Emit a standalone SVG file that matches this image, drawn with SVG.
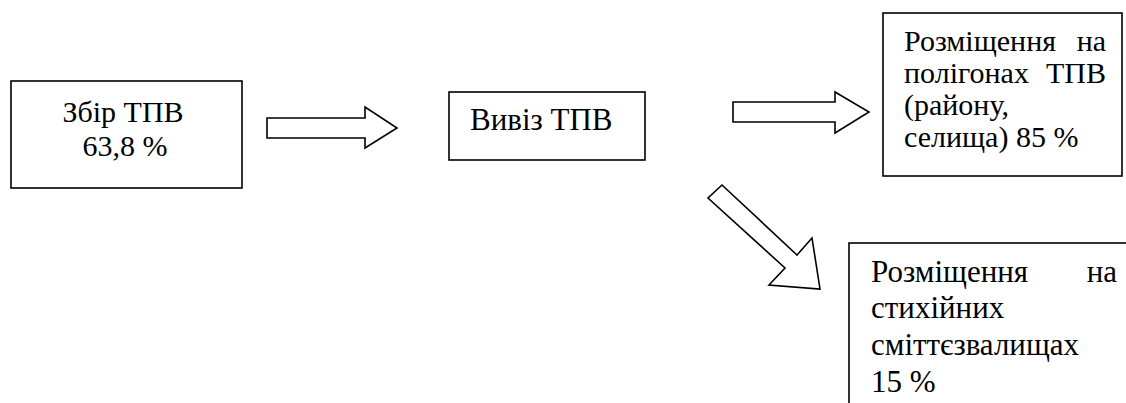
<svg xmlns="http://www.w3.org/2000/svg" width="1126" height="403" viewBox="0 0 1126 403">
<style>
.box{fill:#fff;stroke:#000;stroke-width:1.6}
.arr{fill:#fff;stroke:#000;stroke-width:1.6;stroke-linejoin:miter}
</style>
<rect width="1126" height="403" fill="#fff"/>
<g id="connectors">
<polygon class="arr" points="267,118 365,118 365,107 397,128 365,148 365,138 267,138"/>
<polygon class="arr" points="733,102 835,102 835,92 869,112 835,133 835,122 733,122"/>
<polygon class="arr" points="722,185 797,255 812,238 820,289 769,285 785,268 708,198"/>
</g>
<g font-family="'Liberation Serif', 'Times New Roman', 'DejaVu Serif', serif" font-size="30" fill="#000">
<g id="n1">
<rect class="box" x="11" y="81" width="231" height="107"/>
<text x="123" y="122" text-anchor="middle">Збір ТПВ</text>
<text x="125" y="156" text-anchor="middle">63,8 %</text>
</g>
<g id="n2">
<rect class="box" x="449" y="92" width="196" height="68"/>
<text x="470" y="130" font-size="31">Вивіз ТПВ</text>
</g>
<g id="n3">
<rect class="box" x="883" y="13" width="239" height="163"/>
<text x="904" y="51">Розміщення</text>
<text x="1106" y="51" text-anchor="end">на</text>
<text x="904" y="83">полігонах</text>
<text x="1106" y="83" text-anchor="end">ТПВ</text>
<text x="904" y="115">(району,</text>
<text x="904" y="147">селища) 85 %</text>
</g>
<g id="n4" font-size="31">
<rect class="box" x="849" y="243" width="290" height="180"/>
<text x="871" y="282">Розміщення</text>
<text x="1117" y="282" text-anchor="end">на</text>
<text x="871" y="318">стихійних</text>
<text x="871" y="355">сміттєзвалищах</text>
<text x="871" y="392">15 %</text>
</g>
</g>
</svg>
